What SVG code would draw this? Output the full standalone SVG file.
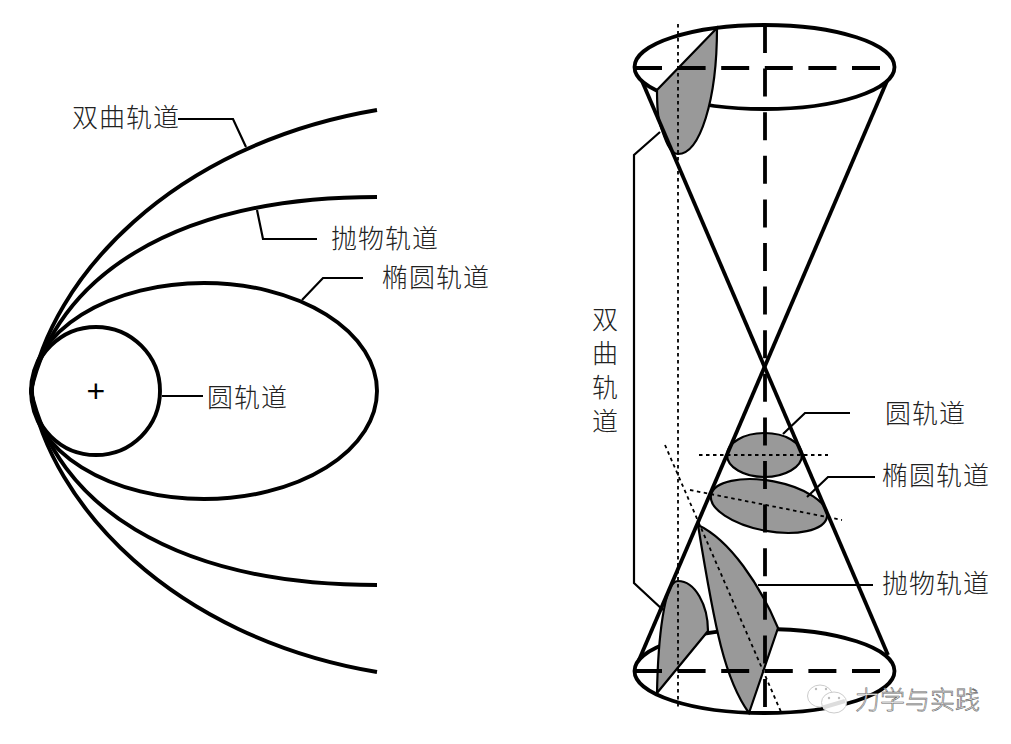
<svg xmlns="http://www.w3.org/2000/svg" width="1011" height="744" viewBox="0 0 1011 744">
<style>
.bg{fill:#fff}
.o{fill:none;stroke:#000;stroke-width:3.9}
.c{fill:none;stroke:#000;stroke-width:3.8}
.l{fill:none;stroke:#000;stroke-width:2.2}
.g{fill:#999;stroke:#000;stroke-width:2.2}
.d{fill:none;stroke:#000;stroke-width:3.8;stroke-dasharray:28 15.6}
.t{fill:none;stroke:#000;stroke-width:1.8;stroke-dasharray:3.5 3.5}
text{font-family:"Noto Sans CJK SC","Liberation Sans",sans-serif;font-size:26px;font-weight:300;fill:#222;letter-spacing:1px}
.p{font-family:"Liberation Sans",sans-serif;font-size:32px;letter-spacing:0;fill:#000}
.wm{font-size:25px;fill:#fff;stroke:#666;stroke-width:.6;letter-spacing:0}
.b{fill:#fff;stroke:#ccc;stroke-width:1}
.e{fill:#bbb}
</style>
<rect class="bg" width="1011" height="744"/>
<g id="left-orbits">
<path id="hyperbola" class="o" d="M377 110C170 145 50 280 31 391C50 502 170 637 377 672"/>
<path id="parabola" class="o" d="M377 197C170 197 55 280 31 391C55 502 170 585 377 585"/>
<ellipse id="ellipse" class="o" cx="204" cy="391" rx="173" ry="108"/>
<circle id="circle" class="o" cx="96" cy="391" r="64"/>
</g>
<g id="cone-surface">
<ellipse class="c" cx="764.500" cy="67" rx="130" ry="42"/>
<ellipse class="c" cx="764.500" cy="671" rx="130" ry="42"/>
</g>
<g id="sections">
<path class="g" d="M717 28L657 90C657 105 658 118 660 124C665 140 670 154 678 154C700 154 717 100 717 28Z"/>
<path class="g" d="M657 693C658 640 664 581 678 581C695 581 708 605 708 631Z"/>
<path class="g" d="M698 525C730 540 760 585 778 628L749 713C725 680 715 630 698 525Z"/>
<ellipse class="g" cx="764.500" cy="455" rx="37.500" ry="22"/>
<ellipse class="g" cx="769" cy="506" rx="59" ry="25" transform="rotate(10.700 769 506)"/>
</g>
<g id="cone-lines">
<path class="c" d="M642 81L888 655"/>
<path class="c" d="M887 81L639 660"/>
<path class="d" d="M634 68H892"/>
<path class="d" d="M634 671H892"/>
<path class="d" d="M765 25V713"/>
</g>
<g id="dotted-axes">
<path class="t" d="M678 24V710"/>
<path class="t" d="M699 455H828"/>
<path class="t" d="M690 490L842 520"/>
<path class="t" d="M665 445L781 712"/>
</g>
<g id="connectors">
<path class="l" d="M178 119H233L246 147"/>
<path class="l" d="M257 210L263 239H317"/>
<path class="l" d="M302 300L323 278H363"/>
<path class="l" d="M162 396H203"/>
<path class="l" d="M660 132L634 155V583L663 610"/>
<path class="l" d="M783 434L805 413H850"/>
<path class="l" d="M807 497L828 477H875"/>
<path class="l" d="M758 585H873"/>
</g>
<g id="label-hyperbola-left"><text x="72" y="127">双曲轨道</text></g>
<g id="label-parabola-left"><text x="331" y="248">抛物轨道</text></g>
<g id="label-ellipse-left"><text x="382" y="287">椭圆轨道</text></g>
<g id="label-circle-left"><text x="207" y="407">圆轨道</text></g>
<g id="focus"><text class="p" x="86.500" y="402">+</text></g>
<g id="label-hyperbola-right">
<text x="592" y="329">双</text><text x="592" y="363">曲</text><text x="592" y="397">轨</text><text x="592" y="431">道</text>
</g>
<g id="label-circle-right"><text x="885" y="423">圆轨道</text></g>
<g id="label-ellipse-right"><text x="882" y="485">椭圆轨道</text></g>
<g id="label-parabola-right"><text x="882" y="593">抛物轨道</text></g>
<g id="watermark">
<ellipse class="b" cx="820" cy="696" rx="12.500" ry="11"/>
<ellipse class="b" cx="834" cy="702.500" rx="12.500" ry="10.500"/>
<path d="M823 707.500L845 701" fill="none" stroke="#ddd" stroke-width="4"/>
<circle class="e" cx="816" cy="689" r="1.200"/><circle class="e" cx="826" cy="689" r="1.200"/>
<circle class="e" cx="829" cy="698" r="1.200"/><circle class="e" cx="839" cy="698" r="1.200"/>
<text class="wm" x="855" y="709">力学与实践</text>
</g>
</svg>
